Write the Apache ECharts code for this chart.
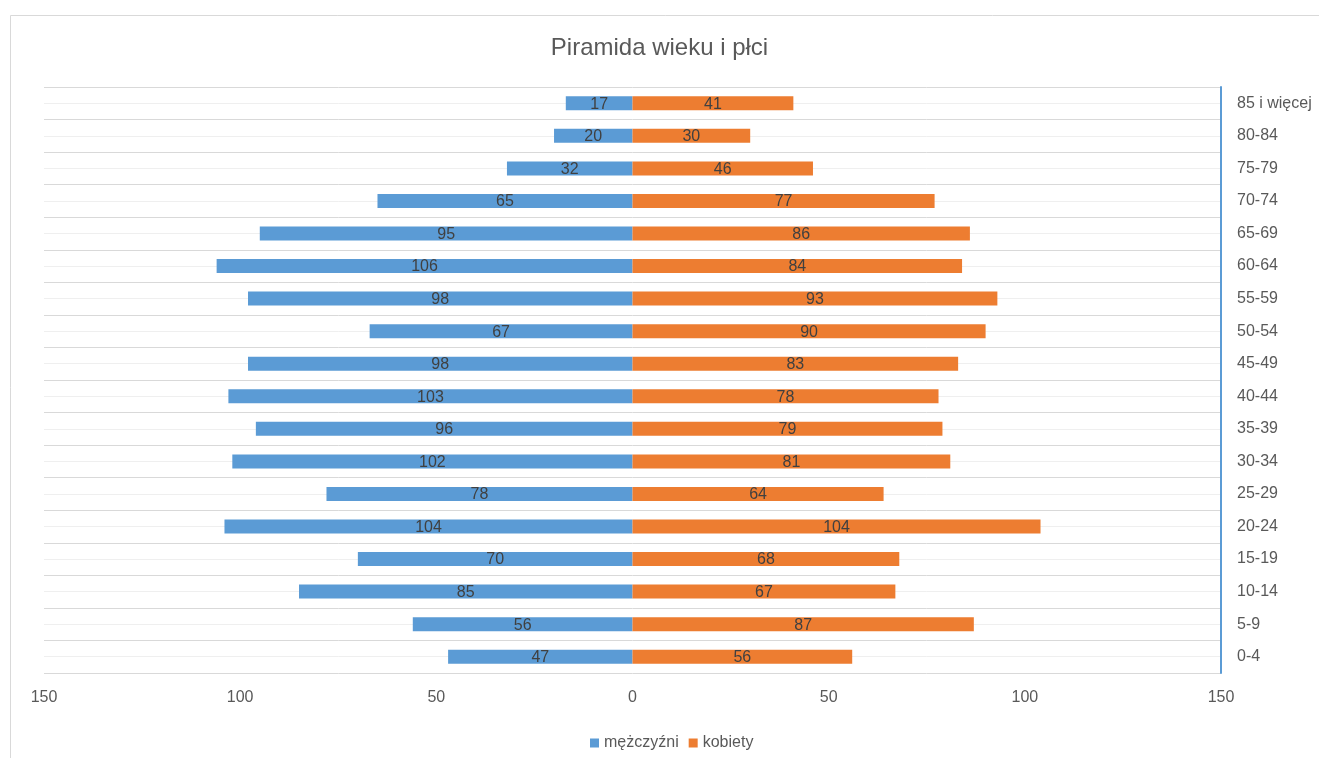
<!DOCTYPE html>
<html>
<head>
<meta charset="utf-8">
<title>Piramida wieku i płci</title>
<script src="https://cdn.jsdelivr.net/npm/echarts@6/dist/echarts.min.js"></script>
<style>
  html, body { margin: 0; padding: 0; background: #fff; }
  #chart { width: 1319px; height: 758px; }
</style>
</head>
<body>
<div id="chart"></div>
<script>
  // age groups, bottom to top
  const ageGroups = ['0-4', '5-9', '10-14', '15-19', '20-24', '25-29', '30-34', '35-39', '40-44',
    '45-49', '50-54', '55-59', '60-64', '65-69', '70-74', '75-79', '80-84', '85 i więcej'];
  const men = [47, 56, 85, 70, 104, 78, 102, 96, 103, 98, 67, 98, 106, 95, 65, 32, 20, 17];
  const women = [56, 87, 67, 68, 104, 64, 81, 79, 78, 83, 90, 93, 84, 86, 77, 46, 30, 41];
  const xTicks = [-150, -100, -50, 0, 50, 100, 150];

  const font = '"Liberation Sans", Arial, sans-serif';
  const chart = echarts.init(document.getElementById('chart'));

  const barLabel = {
    show: true,
    position: 'inside',
    color: '#404040',
    fontSize: 16,
    fontFamily: font,
    offset: [0, 1],
    formatter: p => Math.abs(p.value)
  };

  chart.setOption({
    animation: false,
    textStyle: { fontFamily: font },
    title: {
      text: 'Piramida wieku i płci',
      left: 'center',
      top: 31,
      textStyle: { color: '#595959', fontSize: 24, fontWeight: 'normal', fontFamily: font }
    },
    graphic: [{
      type: 'rect',
      left: 8, top: 13,
      shape: { width: 1400, height: 800 },
      style: { fill: 'none', stroke: '#d9d9d9', lineWidth: 1 },
      silent: true
    }],
    legend: {
      data: ['mężczyźni', 'kobiety'],
      left: 585,
      top: 730,
      icon: 'rect',
      itemWidth: 9,
      itemHeight: 9,
      itemGap: 10,
      textStyle: { color: '#595959', fontSize: 16, fontFamily: font }
    },
    grid: { left: 44, right: 98, top: 87, bottom: 85 },
    xAxis: {
      type: 'value',
      min: xTicks[0],
      max: xTicks[xTicks.length - 1],
      interval: 50,
      axisLine: { show: false },
      axisTick: { show: false },
      splitLine: { show: false },
      axisLabel: {
        color: '#595959', fontSize: 16, fontFamily: font, margin: 17,
        formatter: v => Math.abs(v)
      }
    },
    yAxis: {
      type: 'category',
      data: ageGroups,
      position: 'right',
      z: 3,
      axisLine: { show: true, onZero: false, lineStyle: { color: '#5b9bd5', width: 2 } },
      axisTick: { show: false },
      splitLine: { show: true, lineStyle: { color: '#d9d9d9', width: 1 } },
      axisLabel: { color: '#595959', fontSize: 16, fontFamily: font, margin: 16 }
    },
    series: [
      {
        name: 'mężczyźni',
        type: 'bar',
        stack: 'pop',
        barWidth: 14,
        itemStyle: { color: '#5b9bd5' },
        label: barLabel,
        data: men.map(v => -v),
        markLine: {
          z: 1,
          silent: true,
          symbol: 'none',
          label: { show: false },
          lineStyle: { color: '#efefef', type: 'solid', width: 1 },
          data: ageGroups.map(c => ({ yAxis: c }))
        }
      },
      {
        name: 'kobiety',
        type: 'bar',
        stack: 'pop',
        barWidth: 14,
        itemStyle: { color: '#ed7d31' },
        label: barLabel,
        data: women
      }
    ]
  });
</script>
</body>
</html>
